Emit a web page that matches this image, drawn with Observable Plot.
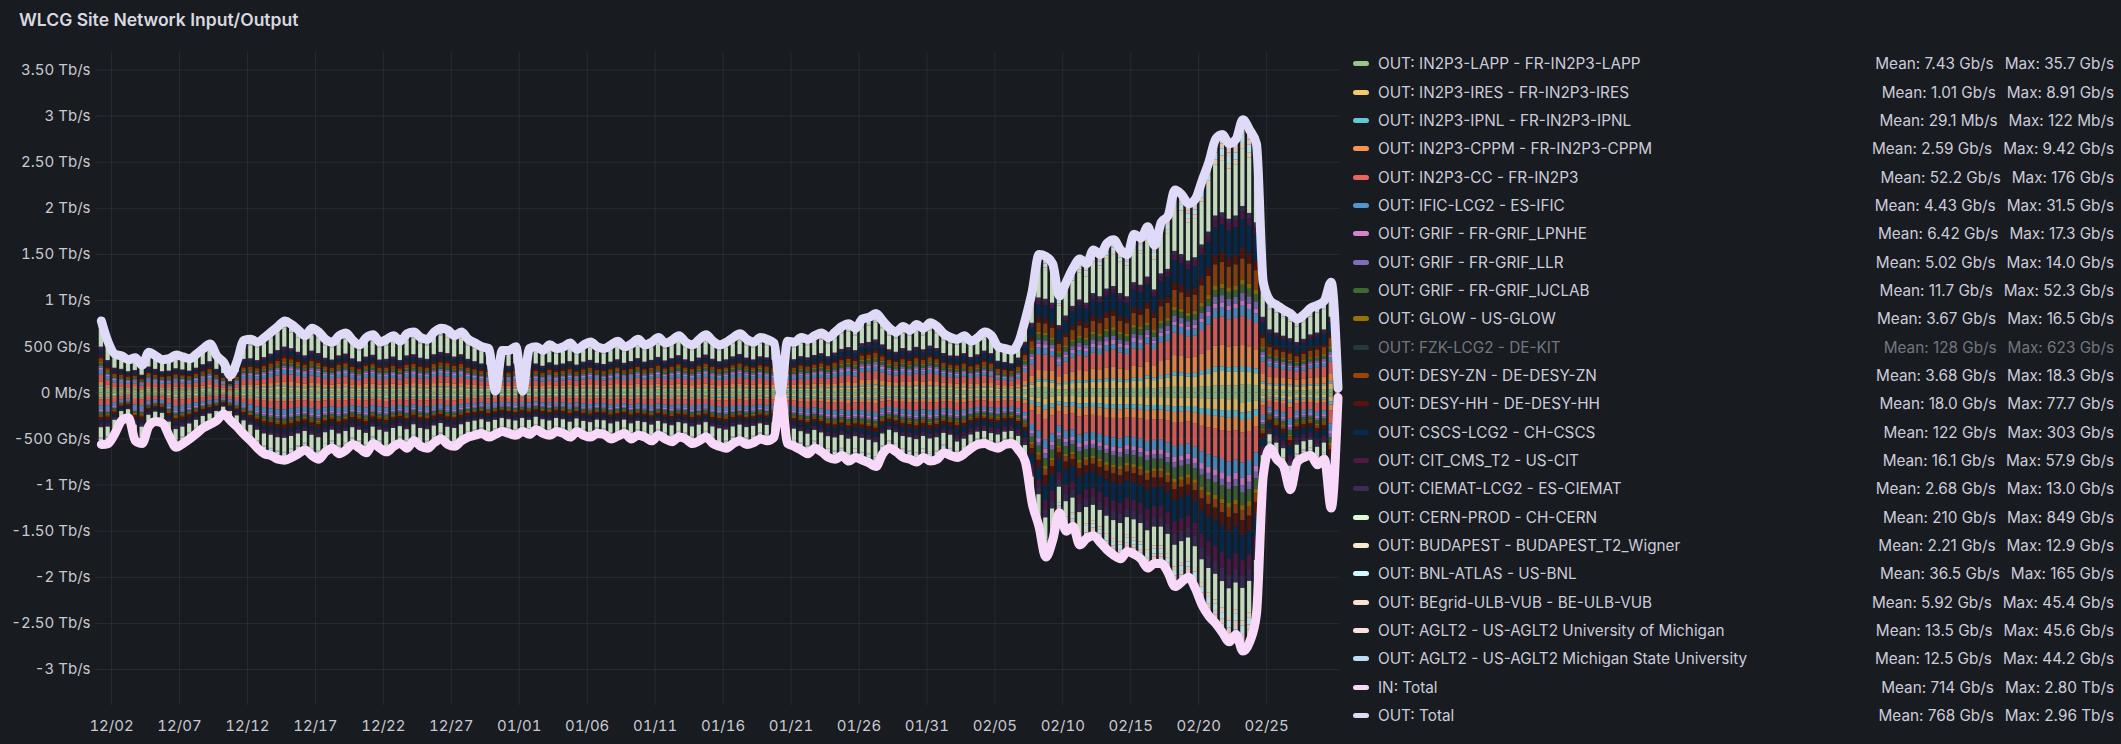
<!DOCTYPE html>
<html>
<head>
<meta charset="utf-8">
<script src="https://cdn.jsdelivr.net/npm/d3@7"></script>
<script src="https://cdn.jsdelivr.net/npm/@observablehq/plot@0.6"></script>
<style>
html, body { margin: 0; padding: 0; background: #181b1f; }
#wrap { position: relative; width: 2121px; height: 744px; overflow: hidden; background: #181b1f;
  font-family: Inter, "Noto Sans", sans-serif; color: #ccccdc; }
#title { position: absolute; left: 19px; top: 9px; font-size: 17.5px; font-weight: 600; color: #d8d9e0; }
#chart { position: absolute; left: 0; top: 0; }
#legend { position: absolute; left: 1353px; top: 49.5px; width: 761px; }
.row { display: flex; align-items: center; height: 28.35px; font-size: 15.3px; white-space: nowrap; }
.sw { width: 16px; height: 5px; border-radius: 3px; margin-right: 9px; flex: none; }
.lab { flex: 1; }
.mean { margin-right: 11px; }
.dim { opacity: 0.5; }
</style>
</head>
<body>
<div id="wrap">
  <div id="chart"></div>
  <div id="title">WLCG Site Network Input/Output</div>
  <div id="legend"></div>
</div>
<script>
// ---------- legend series ----------
const legendNames = [
  "OUT: IN2P3-LAPP - FR-IN2P3-LAPP", "OUT: IN2P3-IRES - FR-IN2P3-IRES", "OUT: IN2P3-IPNL - FR-IN2P3-IPNL",
  "OUT: IN2P3-CPPM - FR-IN2P3-CPPM", "OUT: IN2P3-CC - FR-IN2P3", "OUT: IFIC-LCG2 - ES-IFIC",
  "OUT: GRIF - FR-GRIF_LPNHE", "OUT: GRIF - FR-GRIF_LLR", "OUT: GRIF - FR-GRIF_IJCLAB",
  "OUT: GLOW - US-GLOW", "OUT: FZK-LCG2 - DE-KIT", "OUT: DESY-ZN - DE-DESY-ZN",
  "OUT: DESY-HH - DE-DESY-HH", "OUT: CSCS-LCG2 - CH-CSCS", "OUT: CIT_CMS_T2 - US-CIT",
  "OUT: CIEMAT-LCG2 - ES-CIEMAT", "OUT: CERN-PROD - CH-CERN", "OUT: BUDAPEST - BUDAPEST_T2_Wigner",
  "OUT: BNL-ATLAS - US-BNL", "OUT: BEgrid-ULB-VUB - BE-ULB-VUB", "OUT: AGLT2 - US-AGLT2 University of Michigan",
  "OUT: AGLT2 - US-AGLT2 Michigan State University", "IN: Total", "OUT: Total"
];
const legendColors = [
  "#9AC48A", "#F2C96D", "#65C5DB", "#F9934E", "#EA6460", "#5195CE", "#D683CE", "#806EB7",
  "#3F6833", "#967302", "#2F575E", "#99440A", "#58140C", "#052B51", "#511749", "#3F2B5B",
  "#E0F9D7", "#FCEACA", "#CFFAFF", "#F9E2D2", "#FCE2DE", "#BADFF4", "#F9D9F9", "#DEDAF7"
];
const legendMean = [
  "7.43 Gb/s", "1.01 Gb/s", "29.1 Mb/s", "2.59 Gb/s", "52.2 Gb/s", "4.43 Gb/s", "6.42 Gb/s", "5.02 Gb/s",
  "11.7 Gb/s", "3.67 Gb/s", "128 Gb/s", "3.68 Gb/s", "18.0 Gb/s", "122 Gb/s", "16.1 Gb/s", "2.68 Gb/s",
  "210 Gb/s", "2.21 Gb/s", "36.5 Gb/s", "5.92 Gb/s", "13.5 Gb/s", "12.5 Gb/s", "714 Gb/s", "768 Gb/s"
];
const legendMax = [
  "35.7 Gb/s", "8.91 Gb/s", "122 Mb/s", "9.42 Gb/s", "176 Gb/s", "31.5 Gb/s", "17.3 Gb/s", "14.0 Gb/s",
  "52.3 Gb/s", "16.5 Gb/s", "623 Gb/s", "18.3 Gb/s", "77.7 Gb/s", "303 Gb/s", "57.9 Gb/s", "13.0 Gb/s",
  "849 Gb/s", "12.9 Gb/s", "165 Gb/s", "45.4 Gb/s", "45.6 Gb/s", "44.2 Gb/s", "2.80 Tb/s", "2.96 Tb/s"
];
const hiddenSeries = ["OUT: FZK-LCG2 - DE-KIT"];

// ---------- totals, Tb/s, one value per 12 h from 2022-12-01 00:00 UTC ----------
const outTotal = [
  0.78,0.55, 0.42,0.40, 0.36,0.38, 0.30,0.44, 0.40,0.36, 0.37,0.41, 0.39,0.37, 0.42,0.48, 0.53,0.40, 0.33,0.19,
  0.35,0.57, 0.58,0.55, 0.60,0.66, 0.72,0.78, 0.74,0.68, 0.62,0.70, 0.66,0.58, 0.55,0.62, 0.65,0.57, 0.52,0.60,
  0.63,0.55, 0.58,0.62, 0.56,0.64, 0.66,0.60, 0.58,0.66, 0.70,0.68, 0.62,0.66, 0.58,0.54, 0.50,0.48, 0.02,0.46,
  0.46,0.50, 0.02,0.48, 0.50,0.46, 0.52,0.48, 0.50,0.54, 0.47,0.52, 0.55,0.50, 0.48,0.52, 0.56,0.50, 0.53,0.58,
  0.52,0.55, 0.60,0.54, 0.57,0.62, 0.55,0.52, 0.58,0.63, 0.56,0.52, 0.55,0.60, 0.64,0.58, 0.55,0.60, 0.58,0.54,
  0.00,0.56, 0.55,0.60, 0.58,0.62, 0.65,0.60, 0.66,0.72, 0.75,0.70, 0.80,0.82, 0.86,0.78, 0.70,0.66, 0.72,0.68,
  0.74,0.70, 0.76,0.72, 0.64,0.60, 0.58,0.62, 0.56,0.60, 0.66,0.62, 0.50,0.48, 0.46,0.55, 0.80,1.10, 1.50,1.48,
  1.40,1.05, 1.20,1.35, 1.45,1.40, 1.55,1.50, 1.62,1.66, 1.55,1.50, 1.72,1.68, 1.80,1.60, 1.85,1.92, 2.20,2.15,
  2.05,2.10, 2.30,2.50, 2.75,2.80, 2.70,2.75, 2.96,2.85, 2.70,1.20, 1.00,0.95, 0.90,0.86, 0.80,0.85, 0.92,0.95,
  1.00,1.20, 0.05
];
const inTotal = [
  0.56,0.55, 0.44,0.30, 0.27,0.52, 0.55,0.36, 0.31,0.33, 0.47,0.59, 0.55,0.50, 0.44,0.38, 0.34,0.30, 0.23,0.30,
  0.37,0.45, 0.52,0.60, 0.66,0.68, 0.72,0.73, 0.70,0.66, 0.62,0.68, 0.72,0.64, 0.60,0.66, 0.62,0.56, 0.60,0.65,
  0.55,0.60, 0.64,0.58, 0.55,0.60, 0.52,0.58, 0.60,0.54, 0.50,0.56, 0.58,0.52, 0.48,0.46, 0.44,0.48, 0.45,0.42,
  0.44,0.46, 0.42,0.45, 0.40,0.44, 0.46,0.42, 0.44,0.48, 0.42,0.46, 0.48,0.44, 0.45,0.50, 0.47,0.44, 0.50,0.46,
  0.48,0.52, 0.46,0.50, 0.53,0.48, 0.50,0.55, 0.52,0.48, 0.55,0.58, 0.60,0.55, 0.52,0.56, 0.54,0.50, 0.52,0.48,
  0.00,0.55, 0.58,0.62, 0.66,0.60, 0.64,0.70, 0.72,0.68, 0.74,0.70, 0.73,0.76, 0.80,0.66, 0.60,0.64, 0.70,0.72,
  0.75,0.70, 0.74,0.72, 0.65,0.68, 0.70,0.66, 0.60,0.56, 0.55,0.58, 0.60,0.56, 0.55,0.62, 0.75,1.20, 1.45,1.78,
  1.60,1.30, 1.50,1.45, 1.65,1.58, 1.55,1.62, 1.70,1.76, 1.80,1.72, 1.75,1.80, 1.90,1.85, 1.85,1.95, 2.10,2.05,
  2.00,2.12, 2.30,2.42, 2.50,2.60, 2.70,2.62, 2.80,2.70, 2.40,0.90, 0.60,0.72, 0.80,1.05, 0.75,0.70, 0.68,0.78,
  0.72,1.25, 0.05
];

const outWeights = [
  [5,5,4,4,5,5,4,4,5,4,3,3,3,4],        // LAPP
  [3,3,3,3,3,3,3,3,3,4,5,6,5,3],        // IRES
  [2,2,2,2,2,2,2,2,2,2,2,2,2,2],        // IPNL
  [5,5,6,6,5,6,6,6,7,7,8,9,8,6],        // CPPM
  [10,10,11,10,10,11,11,10,11,12,12,12,11,11], // CC
  [6,6,6,5,5,5,6,6,5,5,4,4,4,5],        // IFIC
  [3,3,3,3,3,3,3,3,3,3,3,2,2,3],        // LPNHE
  [3,3,3,3,3,3,3,3,3,3,3,3,3,3],        // LLR
  [3,3,3,3,3,3,4,4,4,4,4,3,3,4],        // IJCLAB
  [2,2,2,2,2,2,2,2,2,2,2,2,2,2],        // GLOW
  [5,5,5,5,5,5,5,6,6,7,8,9,8,6],        // DESY-ZN
  [5,5,5,5,5,4,4,4,4,4,4,4,4,5],        // DESY-HH
  [6,6,6,6,6,7,7,8,8,10,12,12,11,8],    // CSCS
  [3,3,3,3,3,3,3,3,3,3,3,3,3,3],        // CIT
  [2,2,2,2,2,2,2,2,2,2,2,2,2,2],        // CIEMAT
  [24,24,23,25,25,24,23,23,22,22,22,22,22,24], // CERN
  [2,2,2,2,2,2,2,2,2,2,2,2,2,2],        // BUDAPEST
  [4,4,4,4,4,4,4,4,4,3,3,3,3,4],        // BNL
  [2,2,2,2,2,2,2,2,2,2,2,2,2,2],        // BEgrid
  [2,2,2,2,2,2,2,2,2,2,2,2,2,2],        // AGLT2 UM
  [2,2,2,2,2,2,2,2,2,2,2,2,2,2]         // AGLT2 MSU
];
const inWeights = [
  [4,4,4,5,4,4,4,5,4,4,3,3,4,4],
  [3,3,3,3,3,3,3,3,3,4,5,5,4,3],
  [3,3,3,3,3,3,3,3,3,3,3,3,3,3],
  [4,4,4,4,4,5,5,5,5,6,6,6,5,5],
  [12,12,12,11,11,12,12,12,12,13,13,13,12,12],
  [8,8,8,7,7,7,7,7,7,6,6,6,6,7],
  [3,3,3,3,3,3,3,3,3,3,3,3,3,3],
  [3,3,3,3,3,3,3,3,3,3,3,3,3,3],
  [4,4,4,4,4,4,4,4,4,5,6,6,5,4],
  [2,2,2,2,2,2,2,2,2,2,2,2,2,2],
  [3,3,3,3,3,3,3,3,3,4,4,4,4,3],
  [7,7,7,7,7,6,6,6,6,6,6,6,6,6],
  [6,6,6,6,6,6,6,7,7,10,12,12,10,7],
  [4,4,4,4,4,4,4,4,4,6,7,7,6,4],
  [3,3,3,3,3,3,3,3,3,5,6,6,5,3],
  [20,20,20,21,21,20,20,20,20,14,12,12,13,18],
  [2,2,2,2,2,2,2,2,2,2,2,2,2,2],
  [4,4,4,4,4,4,4,4,4,3,3,3,3,4],
  [2,2,2,2,2,2,2,2,2,2,2,2,2,2],
  [3,3,3,3,3,3,3,3,3,2,2,2,3,3],
  [2,2,2,2,2,2,2,2,2,2,2,2,2,2]
];

// ---------- ticks ----------
const yTicks = [-3, -2.5, -2, -1.5, -1, -0.5, 0, 0.5, 1, 1.5, 2, 2.5, 3, 3.5];
const yTickLabels = ["-3 Tb/s", "-2.50 Tb/s", "-2 Tb/s", "-1.50 Tb/s", "-1 Tb/s", "-500 Gb/s", "0 Mb/s",
  "500 Gb/s", "1 Tb/s", "1.50 Tb/s", "2 Tb/s", "2.50 Tb/s", "3 Tb/s", "3.50 Tb/s"];
const xTickDays = ["2022-12-02", "2022-12-07", "2022-12-12", "2022-12-17", "2022-12-22", "2022-12-27",
  "2023-01-01", "2023-01-06", "2023-01-11", "2023-01-16", "2023-01-21", "2023-01-26", "2023-01-31",
  "2023-02-05", "2023-02-10", "2023-02-15", "2023-02-20", "2023-02-25"];
const xDomain = ["2022-11-30T19:40Z", "2023-03-02T08:40Z"];
const startTime = "2022-12-01T00:00Z";

// ---------- build ----------
const t0 = new Date(startTime);
const stepOf = h => d3.utcHour.offset(t0, 12 * h);
const siteNames = legendNames.slice(0, 22).filter(n => !hiddenSeries.includes(n));
const siteColors = siteNames.map(n => legendColors[legendNames.indexOf(n)]);

const bars = [];
function addBars(totals, weights, sign) {
  totals.forEach((tot, h) => {
    const w = Math.min(13, Math.floor(h / 14));
    const sw = d3.sum(weights, a => a[w]);
    siteNames.forEach((s, i) => bars.push({date: stepOf(h), site: s, value: sign * tot * weights[i][w] / sw}));
  });
}
addBars(outTotal, outWeights, 1);
addBars(inTotal, inWeights, -1);

const outLine = outTotal.map((v, h) => ({date: d3.utcHour.offset(stepOf(h), 6), value: v}));
const inLine = inTotal.map((v, h) => ({date: d3.utcHour.offset(stepOf(h), 6), value: -v}));
const xTicks = xTickDays.map(s => new Date(s + "T00:00Z"));

const chart = Plot.plot({
  width: 1345,
  height: 744,
  marginLeft: 95,
  marginRight: 6,
  marginTop: 52,
  marginBottom: 39,
  style: {background: "transparent", color: "#c8c9d2", fontSize: "15px", fontFamily: "Inter, 'Noto Sans', sans-serif"},
  x: {type: "utc", domain: xDomain.map(s => new Date(s)), ticks: xTicks, tickFormat: d3.utcFormat("%m/%d"),
      tickSize: 0, tickPadding: 15, label: null},
  y: {domain: [-3.39, 3.69], ticks: yTicks, tickFormat: d => yTickLabels[yTicks.indexOf(d)],
      tickSize: 0, tickPadding: 5, label: null},
  color: {domain: siteNames, range: siteColors},
  marks: [
    Plot.ruleY(yTicks, {stroke: "#ffffff", strokeOpacity: 0.07}),
    Plot.ruleX(xTicks, {stroke: "#ffffff", strokeOpacity: 0.07}),
    Plot.rectY(bars, {x: "date", y: "value", z: "site", fill: "site", fillOpacity: 0.86,
      interval: d3.utcHour.every(12), insetLeft: 1.3, insetRight: 1.3}),
    Plot.line(inLine, {x: "date", y: "value", stroke: legendColors[22], strokeWidth: 9, curve: "monotone-x",
      strokeLinejoin: "round", strokeLinecap: "round"}),
    Plot.line(outLine, {x: "date", y: "value", stroke: legendColors[23], strokeWidth: 9, curve: "monotone-x",
      strokeLinejoin: "round", strokeLinecap: "round"})
  ]
});
document.getElementById("chart").appendChild(chart);

// ---------- legend ----------
const legend = document.getElementById("legend");
legendNames.forEach((n, i) => {
  const row = document.createElement("div");
  row.className = "row" + (hiddenSeries.includes(n) ? " dim" : "");
  row.innerHTML = `<span class="sw" style="background:${legendColors[i]}"></span><span class="lab"></span>` +
    `<span class="mean"></span><span class="max"></span>`;
  row.querySelector(".lab").textContent = n;
  row.querySelector(".mean").textContent = "Mean: " + legendMean[i];
  row.querySelector(".max").textContent = "Max: " + legendMax[i];
  legend.appendChild(row);
});
</script>
</body>
</html>
